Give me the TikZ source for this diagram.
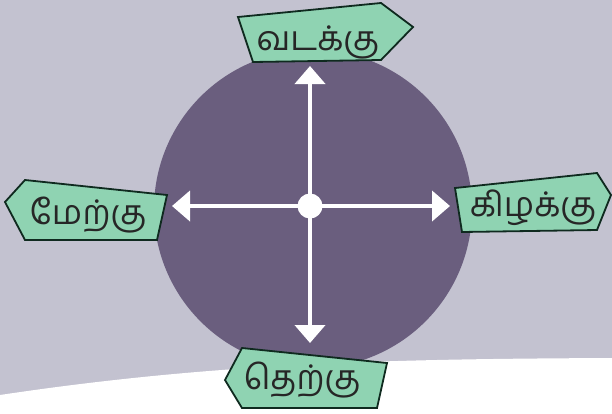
\documentclass[tikz,border=0pt]{standalone}
\usepackage{fontspec}
\newfontfamily\tamilfont[Script=Tamil]{Hind Madurai}
\usetikzlibrary{arrows.meta}

\definecolor{backdrop}{HTML}{C3C2D0}
\definecolor{disc}{HTML}{6A5E7E}
\definecolor{tagfill}{HTML}{8FD3B2}
\definecolor{tagline}{HTML}{0F2A1F}

\begin{document}
\begin{tikzpicture}[
  x=1pt, y=-1pt,
  tag/.style={fill=tagfill, draw=tagline, line width=1.8pt, line join=miter},
  word/.style={font=\tamilfont\fontsize{34}{40}\selectfont, text=black!85, inner sep=0pt},
  arrow/.style={-{Triangle[width=30pt, length=18pt]}, white, line width=4pt},
  hub/.style={circle, fill=white, minimum size=25pt, inner sep=0pt},
]
  \useasboundingbox (0,0) rectangle (612,413);
  \fill[backdrop] (0,0) rectangle (612,413);
  \fill[white] (0,395) .. controls (220,362) and (400,359) .. (612,358)
    -- (612,413) -- (0,413) -- cycle;
  \fill[disc] (313,209) circle[radius=159];

  % compass arrows
  \coordinate (centre) at (310,206);
  \coordinate (ntip) at (310,66);
  \coordinate (stip) at (310,343);
  \coordinate (wtip) at (172,206);
  \coordinate (etip) at (450,206);
  \draw[arrow] (centre) -- (ntip);
  \draw[arrow] (centre) -- (stip);
  \draw[arrow] (centre) -- (wtip);
  \draw[arrow] (centre) -- (etip);
  \node[hub] (hub) at (centre) {};

  % direction tags
  \filldraw[tag] (238,17) -- (381,3) -- (413,27) -- (381,60) -- (253,62) -- cycle;
  \filldraw[tag] (5,202) -- (25,180) -- (167,195) -- (157,240) -- (25,240) -- cycle;
  \filldraw[tag] (455,188) -- (597,173) -- (611,195) -- (597,230) -- (462,232) -- cycle;
  \filldraw[tag] (225,380) -- (242,348) -- (387,363) -- (377,408) -- (242,408) -- cycle;

  \node[word] (north) at (318,42) {வடக்கு};
  \node[word] (west) at (88,215) {மேற்கு};
  \node[word] (east) at (533,208) {கிழக்கு};
  \node[word] (south) at (302,380) {தெற்கு};
\end{tikzpicture}
\end{document}
